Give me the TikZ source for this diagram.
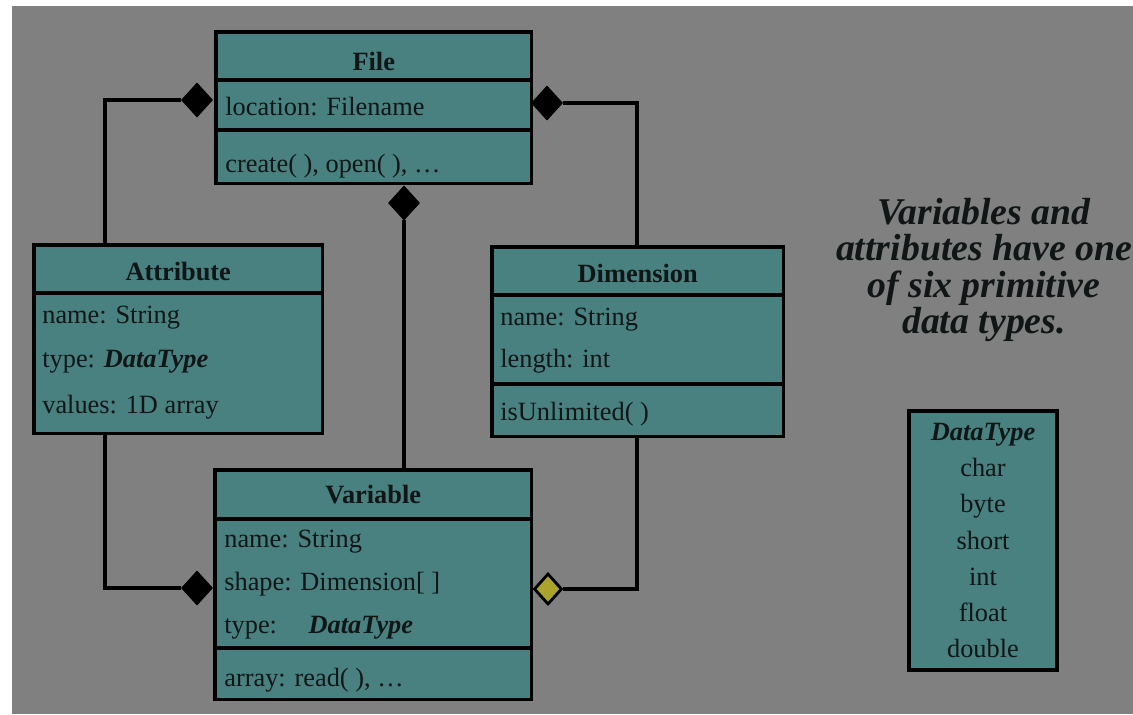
\documentclass[tikz,border=0pt]{standalone}
\usepackage{fontspec}
\setmainfont{Liberation Serif}
\usetikzlibrary{shapes.geometric}
\definecolor{backdrop}{RGB}{128,128,128}
\definecolor{classfill}{RGB}{73,128,128}
\definecolor{ink}{RGB}{16,22,22}
\definecolor{hollow}{RGB}{170,164,44}
\newcommand{\boxfont}{\fontsize{15}{18}\selectfont}
\tikzstyle{classbox}=[draw=black, line width=2pt, fill=classfill, anchor=north west, inner sep=0pt]
\tikzstyle{memberrow}=[anchor=base west, inner sep=0pt, text=ink, font=\boxfont]
\tikzstyle{classname}=[anchor=base, inner sep=0pt, text=ink, font=\boxfont\bfseries]
\tikzstyle{compdiamond}=[diamond, draw=black, fill=black, minimum width=0.62cm, minimum height=0.68cm, inner sep=0pt, line width=0.5pt]
\tikzstyle{aggrdiamond}=[diamond, draw=black, fill=hollow, minimum width=0.56cm, minimum height=0.62cm, inner sep=0pt, line width=1.6pt]
\tikzstyle{assoc}=[line width=1.9pt, draw=black]

\begin{document}
\begin{tikzpicture}[x=0.02cm, y=-0.02cm]
  \useasboundingbox (0,0) rectangle (1133,714);
  \fill[white] (0,0) rectangle (1133,714);
  \fill[backdrop] (12,6) rectangle (1133,714);

  %% Classes
  \draw (214,30) node[classbox, minimum width=6.32cm, minimum height=3.04cm] (file) {};
  \draw (32,243) node[classbox, minimum width=5.78cm, minimum height=3.78cm] (attr) {};
  \draw (490,245) node[classbox, minimum width=5.84cm, minimum height=3.8cm] (dim) {};
  \draw (213,468) node[classbox, minimum width=6.34cm, minimum height=4.6cm] (var) {};

  %% Compartments
  \draw[assoc] (file.west |- 0,80) -- (file.east |- 0,80);
  \draw[assoc] (file.west |- 0,130) -- (file.east |- 0,130);
  \draw[assoc] (attr.west |- 0,293) -- (attr.east |- 0,293);
  \draw[assoc] (dim.west |- 0,295) -- (dim.east |- 0,295);
  \draw[assoc] (dim.west |- 0,384) -- (dim.east |- 0,384);
  \draw[assoc] (var.west |- 0,519) -- (var.east |- 0,519);
  \draw[assoc] (var.west |- 0,648) -- (var.east |- 0,648);

  \draw (file.north |- 0,70) node[classname] (filename) {File};
  \draw (225,115) node[memberrow] (fileloc) {location: Filename};
  \draw (225,172) node[memberrow] (fileops) {create( ), open( ), …};

  \draw (attr.north |- 0,280) node[classname] (attrname) {Attribute};
  \draw (42,323) node[memberrow] (attrnm) {name: String};
  \draw (42,367) node[memberrow] (attrtype) {type: \textbf{\textit{DataType}}};
  \draw (42,413) node[memberrow] (attrvals) {values: 1D array};

  \draw (dim.north |- 0,282) node[classname] (dimname) {Dimension};
  \draw (500,325) node[memberrow] (dimnm) {name: String};
  \draw (500,367) node[memberrow] (dimlen) {length: int};
  \draw (500,420) node[memberrow] (dimops) {isUnlimited( )};

  \draw (var.north |- 0,503) node[classname] (varname) {Variable};
  \draw (224,547) node[memberrow] (varnm) {name: String};
  \draw (224,590) node[memberrow] (varshape) {shape: Dimension[ ]};
  \draw (224,633) node[memberrow] (vartype) {type:\hspace{1.2em}\textbf{\textit{DataType}}};
  \draw (224,686) node[memberrow] (varops) {array: read( ), …};

  %% Associations
  \draw (197,100) node[compdiamond] (fileattr) {};
  \draw (547,103) node[compdiamond] (filedim) {};
  \draw (404,203) node[compdiamond] (filevar) {};
  \draw (197,588) node[compdiamond] (varattr) {};
  \draw (548,589) node[aggrdiamond] (vardim) {};

  \coordinate (attrtop) at (105,243);
  \coordinate (attrbot) at (105,432);
  \coordinate (dimtop) at (637,245);
  \coordinate (dimbot) at (637,435);

  \draw[assoc] (fileattr.west) -| (attrtop);
  \draw[assoc] (filedim.east) -| (dimtop);
  \draw[assoc] (filevar.south) -- (filevar.south |- var.north);
  \draw[assoc] (attrbot) |- (varattr.west);
  \draw[assoc] (dimbot) |- (vardim.east);

  %% Note and data types
  \draw (984,270) node[align=center, text=ink, inner sep=0pt,
    font=\fontsize{21.5}{20.7}\selectfont\bfseries\itshape] (note)
    {Variables and\\attributes have one\\of six primitive\\data types.};
  \draw (983,540.5) node[classbox, anchor=center, minimum width=2.96cm, minimum height=5.18cm,
    align=center, text=ink, font=\fontsize{15}{20.5}\selectfont] (dtype)
    {\textbf{\textit{DataType}}\\char\\byte\\short\\int\\float\\double};
\end{tikzpicture}
\end{document}
